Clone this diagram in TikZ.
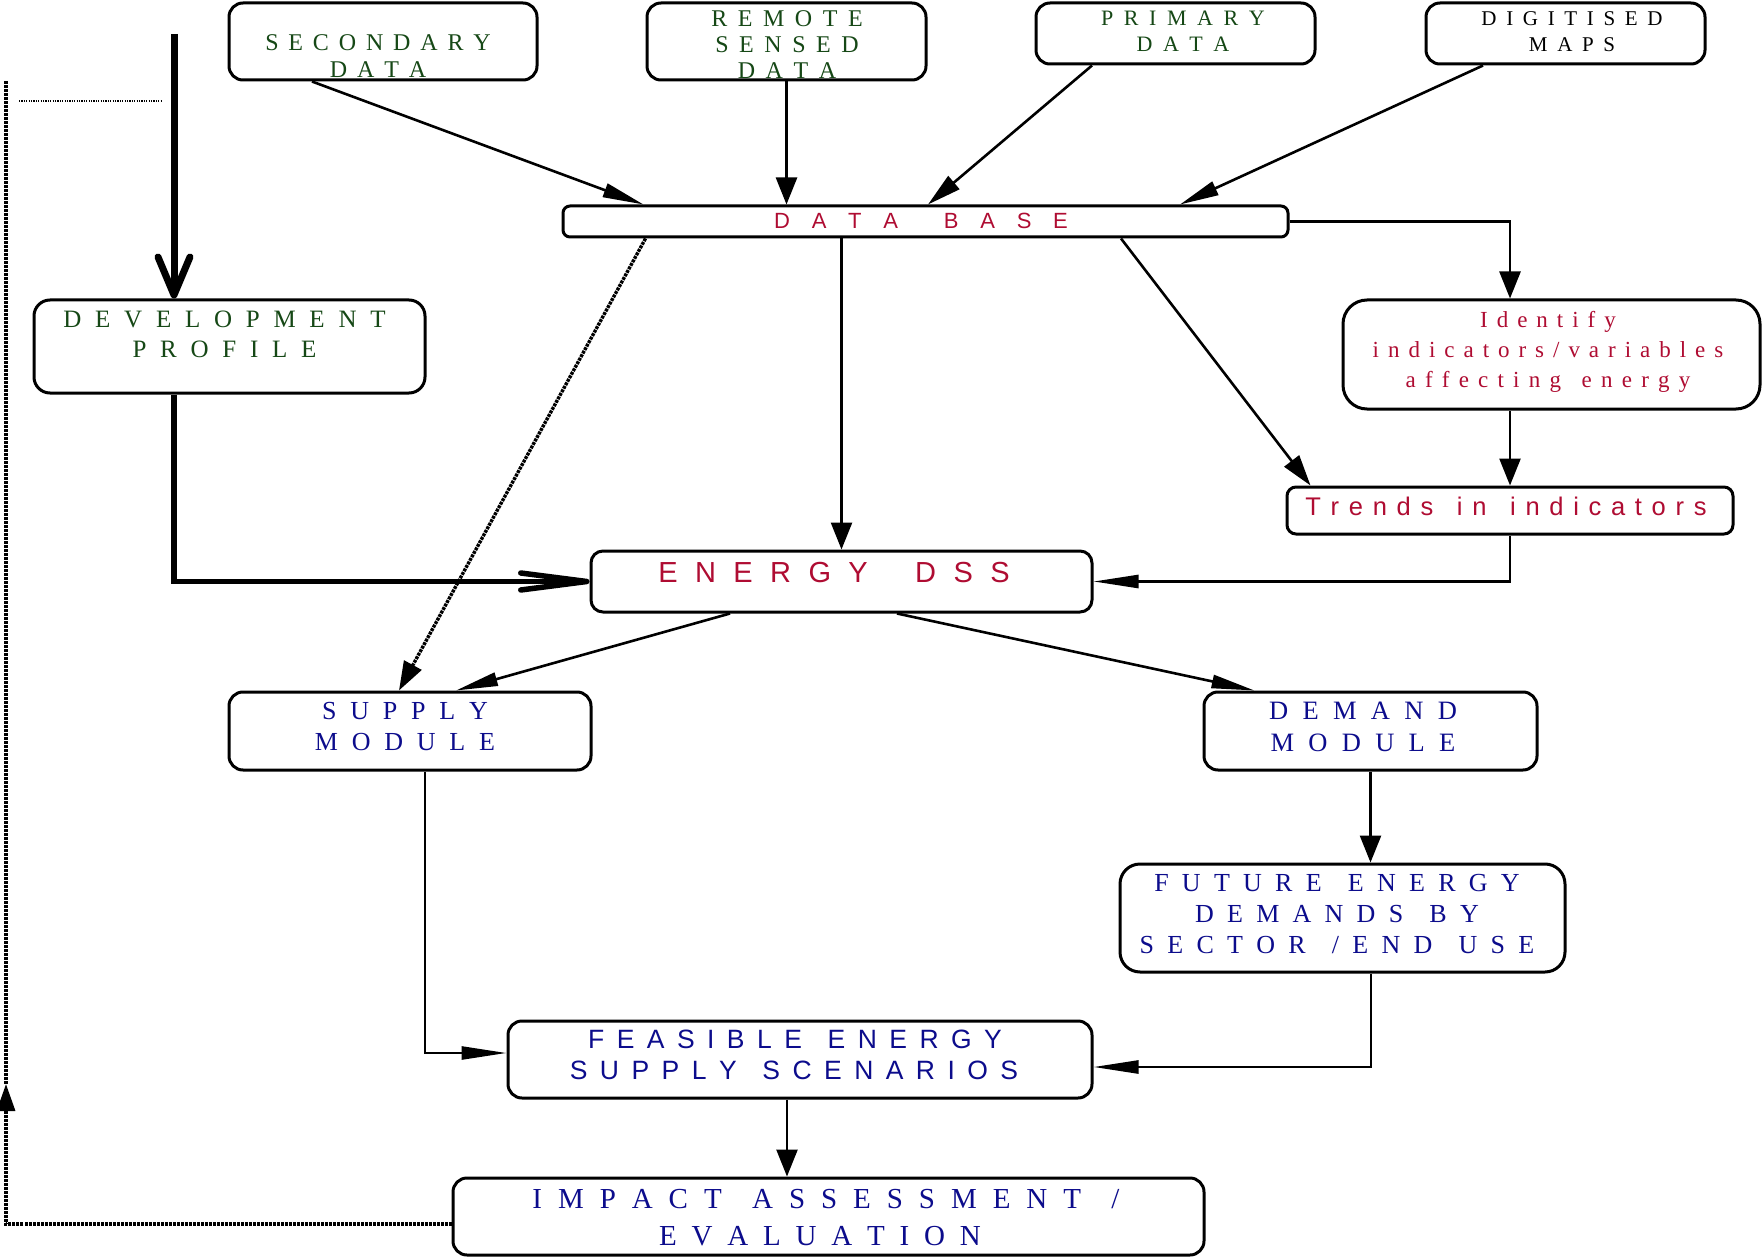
\documentclass[tikz,border=0pt]{standalone}
\usepackage{fontspec}
\usetikzlibrary{arrows.meta,calc}
\newfontfamily\tms{Liberation Serif}
\newfontfamily\hlv{Liberation Sans}
\definecolor{tgreen}{RGB}{22,72,22}
\definecolor{tred}{RGB}{175,12,50}
\definecolor{tblue}{RGB}{12,12,140}
\makeatletter
\newdimen\lsamt
\newdimen\wgapamt
\newcommand\lsp[3]{\lsamt=#1\relax\wgapamt=#2\relax\lsp@loop#3\@nil\kern-\lsamt}
\def\lsp@loop#1{\ifx#1\@nil\else#1\kern\lsamt\expandafter\lsp@loop\fi}
\def\W{\hskip\wgapamt\kern-\lsamt}
\makeatother
\tikzset{
  box/.style={draw=black, fill=white, line width=3pt, rounded corners=#1, inner sep=0pt},
  box/.default=14pt,
  txt/.style n args={3}{anchor=base, inner sep=0pt, text=#1,
     font={#2\fontsize{#3}{#3}\selectfont}},
  conn/.style={draw=black, line width=2.6pt},
  dots/.style={draw=black, line width=3.4pt, dash pattern=on 3pt off 1pt},
  va/.style={-{Triangle[length=27pt,width=21pt]}},
  ha/.style={-{Triangle[length=45pt,width=13pt]}},
}
\begin{document}
\begin{tikzpicture}[x=1pt,y=-1pt]
\useasboundingbox (0,0) rectangle (1762,1257);

% boxes
\node[box, minimum width=308pt, minimum height=77pt] (sec) at (383,41.5) {};
\node[box, minimum width=279pt, minimum height=77pt] (rem) at (786.5,41.5) {};
\node[box, minimum width=279pt, minimum height=61pt] (pri) at (1175.5,33.5) {};
\node[box, minimum width=279pt, minimum height=61pt] (dig) at (1565.5,33.5) {};
\node[box=7pt, minimum width=725pt, minimum height=31pt] (db) at (925.5,221.5) {};
\node[box=16pt, minimum width=391pt, minimum height=93pt] (dev) at (229.5,346.5) {};
\node[box=24pt, minimum width=417pt, minimum height=109pt] (idf) at (1551.5,354.5) {};
\node[box=9pt, minimum width=446pt, minimum height=47pt] (trd) at (1510,510.5) {};
\node[box=12pt, minimum width=501pt, minimum height=61pt] (dss) at (841.5,581.5) {};
\node[box, minimum width=362pt, minimum height=78pt] (sup) at (410,731) {};
\node[box, minimum width=333pt, minimum height=78pt] (dem) at (1370.5,731) {};
\node[box=20pt, minimum width=445pt, minimum height=108pt] (fut) at (1342.5,918) {};
\node[box, minimum width=584pt, minimum height=77pt] (feas) at (800,1059.5) {};
\node[box, minimum width=751pt, minimum height=77pt] (imp) at (828.5,1216.5) {};

% texts
\node[txt={tgreen}{\tms}{24}] (sec-a) at (378,51) {\lsp{0.41em}{0pt}{SECONDARY}};
\node[txt={tgreen}{\tms}{24}] (sec-b) at (378,78) {\lsp{0.41em}{0pt}{DATA}};
\node[txt={tgreen}{\tms}{24}] (rem-a) at (787,27) {\lsp{0.44em}{0pt}{REMOTE}};
\node[txt={tgreen}{\tms}{24}] (rem-b) at (787,53) {\lsp{0.44em}{0pt}{SENSED}};
\node[txt={tgreen}{\tms}{24}] (rem-c) at (787,79) {\lsp{0.44em}{0pt}{DATA}};
\node[txt={tgreen}{\tms}{22}] (pri-a) at (1183,26) {\lsp{0.48em}{0pt}{PRIMARY}};
\node[txt={tgreen}{\tms}{22}] (pri-b) at (1183,52) {\lsp{0.48em}{0pt}{DATA}};
\node[txt={black}{\tms}{21}] (dig-a) at (1572,26) {\lsp{0.46em}{0pt}{DIGITISED}};
\node[txt={black}{\tms}{21}] (dig-b) at (1572,52) {\lsp{0.46em}{0pt}{MAPS}};
\node[txt={tred}{\hlv}{22}] (db-a) at (921,229) {\lsp{0.99em}{24pt}{DATA\W BASE}};
\node[txt={tgreen}{\tms}{25}] (dev-a) at (224.5,327) {\lsp{0.55em}{0pt}{DEVELOPMENT}};
\node[txt={tgreen}{\tms}{25}] (dev-b) at (224.5,358) {\lsp{0.55em}{0pt}{PROFILE}};
\node[txt={tred}{\tms}{23}] (idf-a) at (1548,327) {\lsp{0.39em}{0pt}{Identify}};
\node[txt={tred}{\tms}{23}] (idf-b) at (1548,357) {\lsp{0.39em}{0pt}{indicators/variables}};
\node[txt={tred}{\tms}{23}] (idf-c) at (1548,387) {\lsp{0.40em}{0.5em}{affecting\W energy}};
\node[txt={tred}{\hlv}{25.5}] (trd-a) at (1506,515) {\lsp{0.38em}{0.55em}{Trends\W in\W indicators}};
\node[txt={tred}{\hlv}{29}] (dss-a) at (834,582) {\lsp{0.6em}{30pt}{ENERGY\W DSS}};
\node[txt={tblue}{\tms}{26}] (sup-a) at (405,719) {\lsp{0.53em}{0pt}{SUPPLY}};
\node[txt={tblue}{\tms}{26}] (sup-b) at (405,750) {\lsp{0.53em}{0pt}{MODULE}};
\node[txt={tblue}{\tms}{26.5}] (dem-a) at (1363,719) {\lsp{0.54em}{0pt}{DEMAND}};
\node[txt={tblue}{\tms}{26.5}] (dem-b) at (1363,751) {\lsp{0.54em}{0pt}{MODULE}};
\node[txt={tblue}{\tms}{26}] (fut-a) at (1337,891) {\lsp{0.51em}{0.5em}{FUTURE\W ENERGY}};
\node[txt={tblue}{\tms}{26}] (fut-b) at (1337,922) {\lsp{0.51em}{0.5em}{DEMANDS\W BY}};
\node[txt={tblue}{\tms}{26}] (fut-c) at (1337,953) {\lsp{0.51em}{0.5em}{SECTOR\W /END\W USE}};
\node[txt={tblue}{\hlv}{26.5}] (feas-a) at (795,1048) {\lsp{0.47em}{0.5em}{FEASIBLE\W ENERGY}};
\node[txt={tblue}{\hlv}{26.5}] (feas-b) at (794,1079) {\lsp{0.47em}{0.5em}{SUPPLY\W SCENARIOS}};
\node[txt={tblue}{\tms}{29}] (imp-a) at (826,1208) {\lsp{0.55em}{0.5em}{IMPACT\W ASSESSMENT\W /}};
\node[txt={tblue}{\tms}{29}] (imp-b) at (820,1245) {\lsp{0.51em}{0pt}{EVALUATION}};

% free coordinates
\coordinate (tk) at (174,34);
\coordinate (d1) at (19,101);
\coordinate (d2) at (161,101);
\coordinate (fb) at (6,1224);
\coordinate (fba) at (6,1084);
\coordinate (fbt) at (6,81);
\coordinate (fi) at ($(feas.south)+(-13,0)$);

% thick development lines
\draw[line width=7pt, -{Straight Barb[length=38pt,width=32pt,round]}] (tk) -- (tk |- dev.north);
\draw[line width=5.5pt, -{Straight Barb[length=66pt,width=17pt,round]}] (tk |- dev.south) |- (dss.west);

% thin dotted short line
\draw[line width=1.2pt, dash pattern=on 1.2pt off 1.2pt] (d1) -- (d2);

% feedback dotted line
\draw[dots, -{Triangle[length=27pt,width=18pt]}]
  ($(imp.west)+(0,7.5)$) -- (fb) -- (fba);
\draw[dots] (fba) -- (fbt);

% inputs to data base
\draw[conn, -{Triangle[length=41pt,width=14pt]}] ($(sec.south)+(-71,0)$) -- ($(db.north west)+(82,0)$);
\draw[conn, va] (rem.south) -- (rem.south |- db.north);
\draw[conn, -{Triangle[length=34pt,width=17pt]}] ($(pri.south)+(-83.5,0)$) -- ($(db.north)+(2.5,0)$);
\draw[conn, -{Triangle[length=39pt,width=14.5pt]}] ($(dig.south)+(-82.5,0)$) -- ($(db.north)+(254.5,0)$);

% from data base
\draw[conn, va] (db.east) -| (trd.north |- idf.north);
\draw[conn, va] (dss.north |- db.south) -- (dss.north);
\draw[conn, -{Triangle[length=31pt,width=18.4pt]}] ($(db.south)+(195.5,0)$) -- ($(trd.north west)+(25,0)$);
\draw[dots, -{Triangle[length=29pt,width=19.4pt]}]
  ($(db.south west)+(84,0)$) -- ($(sup.north)+(-11,0)$);

% indicators
\draw[conn, va] (trd.north |- idf.south) -- (trd.north);
\draw[conn, ha] (trd.south) |- (dss.east);

% energy dss to modules
\draw[conn, -{Triangle[length=42pt,width=13.4pt]}] ($(dss.south)+(-111.5,0)$) -- ($(sup.north)+(46,0)$);
\draw[conn, -{Triangle[length=43pt,width=13.1pt]}] ($(dss.south)+(55.5,0)$) -- ($(dem.north west)+(52,0)$);

% lower part
\draw[conn, va] (dem.south) -- (dem.south |- fut.north);
\draw[conn, ha] ($(sup.south)+(15,0)$) |- ($(feas.west)+(0,-6.5)$);
\draw[conn, ha] ($(fut.south)+(28.5,0)$) |- ($(feas.east)+(0,7.5)$);
\draw[conn, va] (fi) -- (fi |- imp.north);
\end{tikzpicture}
\end{document}
